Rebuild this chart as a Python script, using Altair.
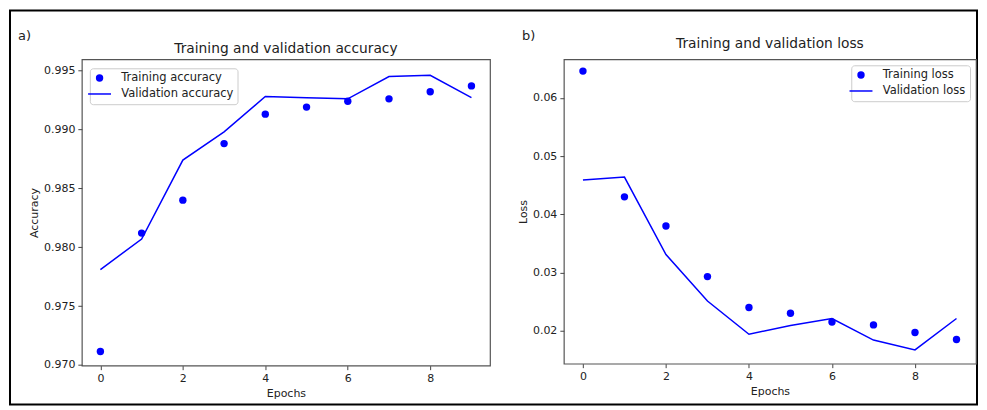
import altair as alt
import pandas as pd

# ---- data ----
epochs = [0, 1, 2, 3, 4, 5, 6, 7, 8, 9]
train_acc = [0.97115, 0.9812, 0.9840, 0.9888, 0.9913, 0.9919, 0.9924, 0.9926, 0.9932, 0.9937]
val_acc = [0.9781, 0.9807, 0.9874, 0.9898, 0.9928, 0.9927, 0.9926, 0.9945, 0.9946, 0.9927]
train_loss = [0.0646, 0.0430, 0.0380, 0.0293, 0.0240, 0.0230, 0.0215, 0.0210, 0.0197, 0.0185]
val_loss = [0.0459, 0.0464, 0.0331, 0.0251, 0.0194, 0.0209, 0.0221, 0.0184, 0.0167, 0.0221]

x_ticks = [0, 2, 4, 6, 8]
acc_ticks = [0.970, 0.975, 0.980, 0.985, 0.990, 0.995]
loss_ticks = [0.02, 0.03, 0.04, 0.05, 0.06]

BLUE = "#0000ff"
FONT = "DejaVu Sans"
TXT = "#222222"
LINE_SYMBOL = "M-3.1,-0.2L3.1,-0.2L3.1,0.2L-3.1,0.2Z"


def panel(train, val, train_name, val_name, title, ytitle, ydomain, yticks, yfmt,
          xdomain, w, h, legend, tag, tag_x, title_y, frame=False):
    df_t = pd.DataFrame({"epoch": epochs, "value": train, "series": train_name})
    df_v = pd.DataFrame({"epoch": epochs, "value": val, "series": val_name})
    x = alt.X("epoch:Q", scale=alt.Scale(domain=xdomain, nice=False, zero=False),
              axis=alt.Axis(values=x_ticks, format="d", title="Epochs"))
    y = alt.Y("value:Q", scale=alt.Scale(domain=ydomain, nice=False, zero=False),
              axis=alt.Axis(values=yticks, format=yfmt, title=ytitle))
    pts = alt.Chart(df_t).mark_point(filled=True, size=55, color=BLUE, opacity=1).encode(
        x=x, y=y,
        shape=alt.Shape("series:N",
                        scale=alt.Scale(domain=[train_name, val_name],
                                        range=["circle", LINE_SYMBOL]),
                        legend=legend))
    line = alt.Chart(df_v).mark_line(color=BLUE, strokeWidth=1.5).encode(x=x, y=y)
    one = alt.Data(values=[{"t": tag, "title": title}])
    tagc = alt.Chart(one).mark_text(font=FONT, fontSize=13, color=TXT, align="left",
                                    baseline="middle").encode(
        x=alt.value(tag_x), y=alt.value(-23), text="t:N")
    titc = alt.Chart(one).mark_text(font=FONT, fontSize=13.8, color=TXT, align="center",
                                    baseline="middle").encode(
        x=alt.value(w / 2), y=alt.value(title_y), text="title:N")
    layers = []
    if frame:
        fr = alt.Chart(alt.Data(values=[{"a": 1}])).mark_rect(
            fill="white", fillOpacity=0, stroke="black", strokeWidth=2).encode(
            x=alt.value(-72), x2=alt.value(897), y=alt.value(-49), y2=alt.value(346))
        layers.append(fr)
    layers += [pts, line, tagc, titc]
    return alt.layer(*layers).properties(width=w, height=h)


leg_common = dict(title=None, padding=4, labelOffset=16, rowPadding=3,
                  strokeColor="#cccccc", fillColor="white", cornerRadius=3,
                  symbolSize=55, symbolStrokeWidth=0,
                  symbolFillColor=BLUE, symbolStrokeColor=BLUE,
                  labelFont=FONT, labelFontSize=11.5, labelColor=TXT)

left = panel(train_acc, val_acc, "Training accuracy", "Validation accuracy",
             "Training and validation accuracy", "Accuracy",
             [0.96994, 0.99596], acc_ticks, ".3f", [-0.45, 9.45], 409, 307,
             alt.Legend(orient="none", legendX=8, legendY=9, **leg_common),
             "a)", -64, -10, frame=True)

right = panel(train_loss, val_loss, "Training loss", "Validation loss",
              "Training and validation loss", "Loss",
              [0.01434, 0.06663], loss_ticks, ".2f", [-0.46, 9.47], 413, 305,
              alt.Legend(orient="top-right", offset=6, **leg_common),
              "b)", -42, -15)

chart = alt.hconcat(left, right, spacing=74, bounds="flush").resolve_scale(
    shape="independent"
).properties(padding=0).configure_view(
    stroke="#555555", strokeWidth=1.2
).configure_axis(
    grid=False, domain=False, tickColor="#444444", tickSize=4, tickWidth=1,
    labelFont=FONT, labelFontSize=11, labelColor=TXT, labelPadding=3,
    titleFont=FONT, titleFontSize=11, titleFontWeight="normal", titleColor=TXT,
    titlePadding=4
)

chart.save("out.html", embed_options={"renderer": "svg", "actions": False})
